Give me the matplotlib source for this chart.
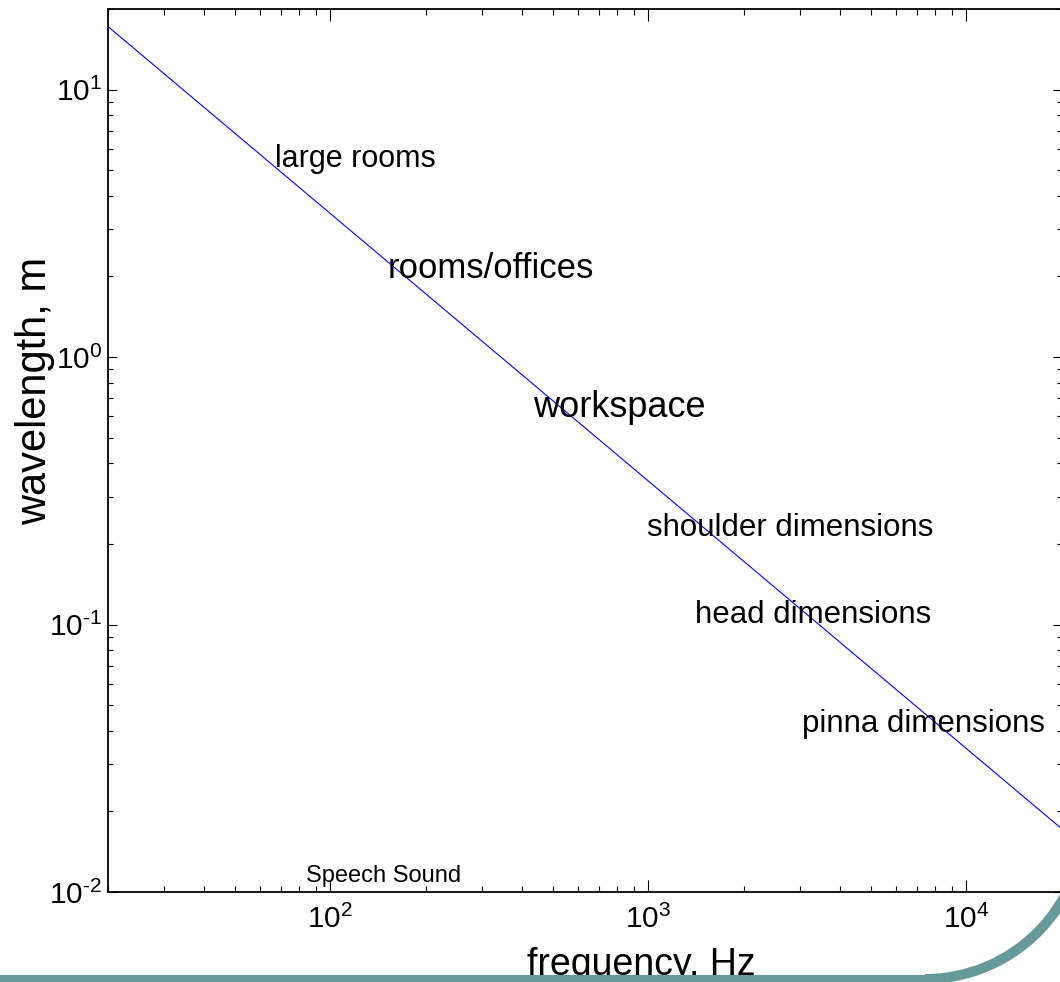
import numpy as np
import matplotlib
matplotlib.use("Agg")
import matplotlib.pyplot as plt
from matplotlib.patches import Wedge, Rectangle
from matplotlib.ticker import LogLocator, FuncFormatter, NullFormatter

plt.rcParams['font.family'] = ['Liberation Sans', 'DejaVu Sans']
plt.rcParams['mathtext.fontset'] = 'custom'
plt.rcParams['mathtext.rm'] = 'Liberation Sans'
plt.rcParams['mathtext.it'] = 'Liberation Sans:italic'

# line end points (straight on log-log axes)
freq = [20, 20000]
wavelength = [17.2, 0.0172]

labels = ["large rooms", "rooms/offices", "workspace", "shoulder dimensions",
          "head dimensions", "pinna dimensions", "Speech Sound"]
label_freq = [67, 152, 435, 993, 1406, 3048, 84]
label_wl = [5.15, 1.98, 0.598, 0.215, 0.1015, 0.0397, 0.0109]
label_size = [22, 25, 26, 22.5, 22.5, 22.5, 17]


def pow10(v, pos):
    e = int(round(np.log10(v)))
    if e < 0:
        return r'$10^{\text{-}%d}$' % (-e)
    return r'$10^{%d}$' % e


W, H = 1060, 982
fig = plt.figure(figsize=(W / 100, H / 100), dpi=100)
ax = fig.add_axes([108 / W, 90 / H, 954 / W, 883 / H])

ax.loglog(freq, wavelength, color='#0000ff', lw=0.8)
ax.set_xlim(20, 20000)
ax.set_ylim(0.01, 20)

for txt, f, w, s in zip(labels, label_freq, label_wl, label_size):
    ax.text(f, w, txt, fontsize=s, ha='left', va='baseline')

ax.xaxis.set_major_locator(LogLocator(base=10))
ax.yaxis.set_major_locator(LogLocator(base=10))
ax.xaxis.set_major_formatter(FuncFormatter(pow10))
ax.yaxis.set_major_formatter(FuncFormatter(pow10))
ax.xaxis.set_minor_formatter(NullFormatter())
ax.yaxis.set_minor_formatter(NullFormatter())

ax.tick_params(which='both', direction='in', top=True, right=True, width=0.8, labelsize=21.5)
ax.tick_params(axis='x', which='major', length=8.5, pad=9)
ax.tick_params(axis='x', which='minor', length=4.5)
ax.tick_params(axis='y', which='major', length=6.5, pad=4)
ax.tick_params(axis='y', which='minor', length=3.5)
for sp in ax.spines.values():
    sp.set_linewidth(1.3)

ax.set_xlabel('frequency, Hz', fontsize=27, va='baseline')
ax.xaxis.set_label_coords((641 - 108) / 954, (892 - 975) / 883)
ax.set_ylabel('wavelength, m', fontsize=30, va='center')
ax.yaxis.set_label_coords((35 - 108) / 954, (892 - 391) / 883)

# slide decoration: teal band along the bottom curving up at the right
deco = fig.add_axes([0, 0, 1, 1], zorder=5)
deco.set_xlim(0, W)
deco.set_ylim(H, 0)
deco.axis('off')
deco.patch.set_alpha(0)
teal = '#669999'
deco.add_patch(Rectangle((0, 975), 926, 10, color=teal, lw=0))
deco.add_patch(Wedge((925, 820), 164, 0, 90, width=10, color=teal, lw=0))

fig.savefig('out.png', dpi=100)
